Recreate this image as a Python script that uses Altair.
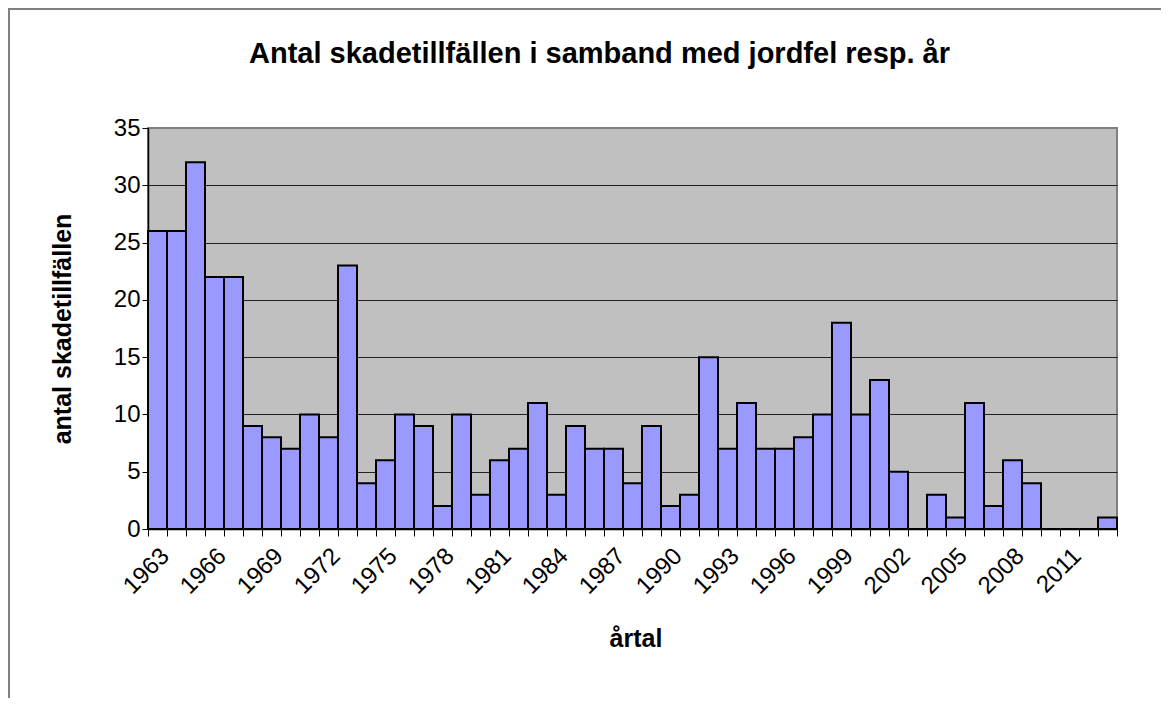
import altair as alt
import pandas as pd

# ---- data ----
years = list(range(1963, 2014))
counts = [26, 26, 32, 22, 22, 9, 8, 7, 10, 8,
          23, 4, 6, 10, 9, 2, 10, 3, 6, 7,
          11, 3, 9, 7, 7, 4, 9, 2, 3, 15,
          7, 11, 7, 7, 8, 10, 18, 10, 13, 5,
          0, 3, 1, 11, 2, 6, 4, 0, 0, 0,
          1]
y_ticks = [0, 5, 10, 15, 20, 25, 30, 35]

title_text = "Antal skadetillfällen i samband med jordfel resp. år"
x_title = "årtal"
y_title = "antal skadetillfällen"

df = pd.DataFrame({"year": years, "count": counts})

FONT = "Liberation Sans"
W, H = 969, 401

boundaries = [y - 0.5 for y in years] + [years[-1] + 0.5]

bars = (
    alt.Chart(df)
    .transform_calculate(x0="datum.year - 0.5", x1="datum.year + 0.5")
    .mark_bar(fill="#9999FF", stroke="black", strokeWidth=2)
    .encode(
        x=alt.X(
            "x0:Q",
            scale=alt.Scale(domain=[years[0] - 0.5, years[-1] + 0.5], nice=False, zero=False),
            axis=alt.Axis(
                values=boundaries,
                labelExpr="(datum.value < 2013 && (datum.value + 0.5 - 1963) % 3 == 0) ? toString(datum.value + 0.5) : ''",
                labelOffset=17,
                labelAngle=315,
                labelAlign="right",
                labelBaseline="middle",
                labelPadding=16,
                labelOverlap=False,
                labelFont=FONT,
                labelFontSize=24,
                labelColor="black",
                tickSize=7,
                tickColor="black",
                tickWidth=1,
                domainColor="black",
                domainWidth=1.5,
                grid=False,
                title=x_title,
                titleFont=FONT,
                titleFontSize=25,
                titleFontWeight="bold",
                titleColor="black",
                titleX=W / 2 + 3,
                titleY=117,
                titleBaseline="alphabetic",
                titleAlign="center",
            ),
        ),
        x2="x1:Q",
        y=alt.Y(
            "count:Q",
            scale=alt.Scale(domain=[0, 35], nice=False),
            axis=alt.Axis(
                values=y_ticks,
                labelFont=FONT,
                labelFontSize=24,
                labelColor="black",
                labelPadding=2,
                tickSize=6,
                tickColor="black",
                domainColor="black",
                domainWidth=1.5,
                grid=True,
                gridColor={"condition": {"test": "datum.value == 35 || datum.value == 0", "value": "#808080"}, "value": "#222222"},
                gridWidth=1,
                title=y_title,
                titleFont=FONT,
                titleFontSize=25,
                titleFontWeight="bold",
                titleColor="black",
                titleAngle=270,
                titleX=-78,
                titleY=H / 2,
                titleBaseline="alphabetic",
                titleAlign="center",
            ),
        ),
        y2=alt.datum(0),
    )
)

frame = (
    alt.Chart(pd.DataFrame({"k": [0]}))
    .mark_rect(filled=False, stroke="#808080", strokeWidth=2)
    .encode(
        x=alt.value(-139),
        x2=alt.value(1200),
        y=alt.value(-119),
        y2=alt.value(800),
    )
)

chart = (
    alt.layer(bars, frame)
    .properties(
        width=W,
        height=H,
        autosize=alt.AutoSizeParams(type="none"),
        padding={"left": 140, "top": 120, "right": 44, "bottom": 169},
        title=alt.TitleParams(
            text=title_text,
            font=FONT,
            fontSize=29,
            fontWeight="bold",
            color="black",
            anchor="middle",
            frame="group",
            baseline="alphabetic",
            offset=0,
            dy=84,
            dx=-33,
        ),
        background="white",
    )
    .configure_view(fill="#C0C0C0", stroke="#808080", strokeWidth=2)
)

chart.save("out.html", embed_options={"renderer": "svg", "actions": False})
